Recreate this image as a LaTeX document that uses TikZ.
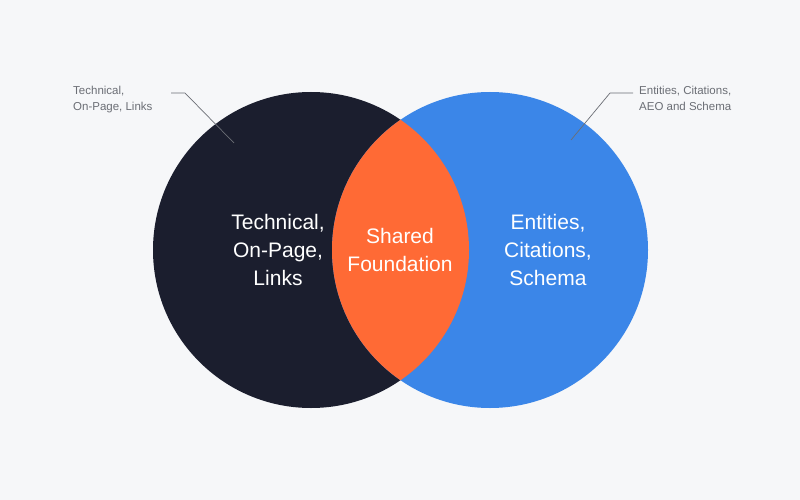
\documentclass[tikz,border=0pt]{standalone}
\usepackage{fontspec}
\setmainfont{Liberation Sans}
\usetikzlibrary{positioning}
\definecolor{inkdark}{HTML}{1B1E2E}
\definecolor{skyblue}{HTML}{3B86E8}
\definecolor{flame}{HTML}{FF6A35}
\definecolor{paper}{HTML}{F6F7F9}
\definecolor{leader}{HTML}{6B6E75}

\begin{document}
\begin{tikzpicture}[
x = 1pt, y = -1pt, % pixel units, y downwards
big/.style = {text = white, align = center, font = \fontsize{21}{28}\selectfont},
small/.style = {text = leader, align = left, font = \fontsize{11.5}{16}\selectfont, inner sep = 0pt},
leaderline/.style = {draw = leader, line width = 0.7pt}
]

\useasboundingbox[fill = paper] (0,0) rectangle (800,500);

% the two sets
\coordinate (cl) at (311,250);
\coordinate (cr) at (490,250);
\fill[inkdark] (cl) circle [radius = 158];
\fill[skyblue] (cr) circle [radius = 158];
\begin{scope}
\clip (cl) circle [radius = 158];
\fill[flame] (cr) circle [radius = 158];
\end{scope}

% centre texts
\node[big] (tech) at (278,250) {Technical,\\On-Page,\\Links};
\node[big] (shared) at (400,250) {Shared\\Foundation};
\node[big] (ent) at (548,250) {Entities,\\Citations,\\Schema};

% callouts
\node[small, anchor = north west] (techcall) at (73,86) {Technical,\\On-Page, Links};
\node[small, anchor = north west] (entcall) at (639,86) {Entities, Citations,\\AEO and Schema};
\coordinate (tk) at (185,93);
\coordinate (tp) at (234,143);
\coordinate (ek) at (610,93);
\coordinate (ep) at (571,140);
\draw[leaderline] (171,93) -- (tk) -- (tp);
\draw[leaderline] (633,93) -- (ek) -- (ep);

\end{tikzpicture}
\end{document}
